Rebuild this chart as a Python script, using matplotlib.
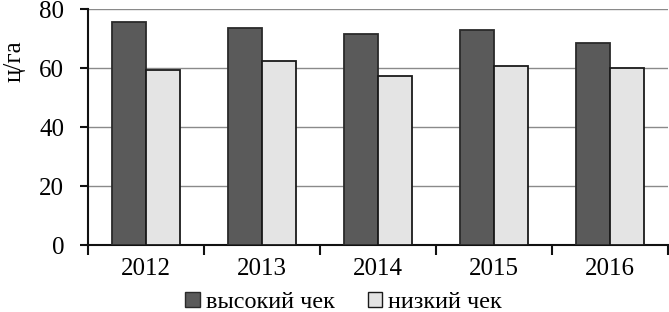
import numpy as np
import matplotlib
matplotlib.use("Agg")
import matplotlib.pyplot as plt
from matplotlib.patches import Patch

years = ["2012", "2013", "2014", "2015", "2016"]
high_check = [75.6, 73.4, 71.5, 73.0, 68.6]
low_check = [59.2, 62.5, 57.2, 60.6, 59.9]
series_names = ["высокий чек", "низкий чек"]

plt.rcParams['font.family'] = ['Liberation Serif', 'DejaVu Serif']

fig = plt.figure(figsize=(6.69, 3.12), dpi=100)
ax = fig.add_axes([0.1315, 0.2147, 0.867, 0.7564])

x = np.arange(len(years))
w = 0.29
dark = '#5a5a5a'
light = '#e4e4e4'
ax.bar(x - w / 2, high_check, w, color=dark, edgecolor='#2a2a2a', linewidth=1.3, zorder=3)
ax.bar(x + w / 2, low_check, w, color=light, edgecolor='#1a1a1a', linewidth=1.3, zorder=3)

ax.set_xlim(-0.5, len(years) - 0.5)
ax.set_ylim(0, 80)
ax.set_yticks([0, 20, 40, 60, 80])
ax.yaxis.grid(True, color='#8a8a8a', linewidth=1.0, zorder=0)

# category ticks sit between groups, labels in the middle
ax.set_xticks(np.arange(-0.5, len(years)), minor=False)
ax.set_xticklabels([])
ax.set_xticks(x, minor=True)
ax.set_xticklabels(years, minor=True)
ax.tick_params(axis='x', which='major', length=7, width=1.5, direction='out', color='#111111')
ax.tick_params(axis='x', which='minor', length=0, pad=9, labelsize=18)
ax.tick_params(axis='y', length=6, width=1.5, direction='out', pad=11, labelsize=18, color='#111111')

for s in ['top', 'right']:
    ax.spines[s].set_visible(False)
for s in ['left', 'bottom']:
    ax.spines[s].set_linewidth(1.5)
    ax.spines[s].set_color('#111111')

ax.set_ylabel("ц/га", fontsize=18)
ax.yaxis.set_label_coords(-0.108, 0.78)

handles = [Patch(facecolor=dark, edgecolor='#2a2a2a'),
           Patch(facecolor=light, edgecolor='#1a1a1a')]
fig.legend(handles, series_names, loc='center', bbox_to_anchor=(0.514, 0.03),
           ncol=2, frameon=False, fontsize=17.5, handlelength=0.6, handleheight=0.6,
           handletextpad=0.25, columnspacing=1.35, borderpad=0)

fig.savefig("out.png", dpi=100)
